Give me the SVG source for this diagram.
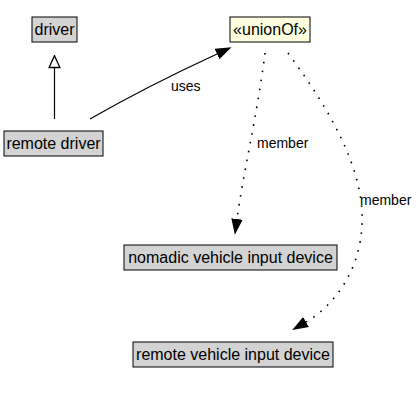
<svg xmlns="http://www.w3.org/2000/svg" width="419" height="405" viewBox="0 0 419 405">
<style>
.box{fill:#d3d3d3;stroke:#000;stroke-width:1}
.union{fill:#ffffe0;stroke:#000;stroke-width:1}
.t{font-family:"Liberation Sans",Arial,sans-serif;font-size:16px;fill:#000;text-anchor:middle}
.lbl{font-family:"Liberation Sans",Arial,sans-serif;font-size:14px;fill:#000}
.edge{fill:none;stroke:#000;stroke-width:1.2}
.dot{fill:none;stroke:#000;stroke-width:1.6;stroke-dasharray:1.6,7.4}
</style>
<defs>
<marker id="filled" markerUnits="userSpaceOnUse" markerWidth="16" markerHeight="12" refX="0" refY="5" orient="auto" viewBox="0 0 14 10">
<path d="M0,0 L14,5 L0,10 Z" fill="#000"/>
</marker>
<marker id="hollow" markerUnits="userSpaceOnUse" markerWidth="14" markerHeight="14" refX="0" refY="5" orient="auto" viewBox="-1 -1 13 12">
<path d="M0,0 L11,5 L0,10 Z" fill="#fff" stroke="#000" stroke-width="1.2"/>
</marker>
</defs>
<rect width="419" height="405" fill="#fff"/>
<g id="connectors">
<path class="edge" d="M54.5,119 L54.5,67.5" marker-end="url(#hollow)"/>
<path class="edge" d="M90,119 C130,96 178,72 217,54" marker-end="url(#filled)"/>
<text class="lbl" x="171" y="91">uses</text>
<path class="dot" d="M265,53 C258,110 243,175 237,219" marker-end="url(#filled)"/>
<text class="lbl" x="257" y="148">member</text>
<path class="dot" d="M288,53 C330,110 365,170 362,225 C360,270 335,305 306,322" marker-end="url(#filled)"/>
<text class="lbl" x="360" y="205">member</text>
</g>
<g id="driver">
<rect class="box" x="32" y="17" width="45" height="25"/>
<text class="t" x="54.5" y="35">driver</text>
</g>
<g id="unionOf">
<rect class="union" x="230" y="17" width="80" height="25"/>
<text class="t" x="270" y="35">«unionOf»</text>
</g>
<g id="remote-driver">
<rect class="box" x="4" y="131" width="99" height="25"/>
<text class="t" x="53.5" y="149">remote driver</text>
</g>
<g id="nomadic-vehicle-input-device">
<rect class="box" x="124" y="245" width="213" height="25"/>
<text class="t" x="230.5" y="263">nomadic vehicle input device</text>
</g>
<g id="remote-vehicle-input-device">
<rect class="box" x="133" y="342" width="200" height="25"/>
<text class="t" x="233" y="360">remote vehicle input device</text>
</g>
</svg>
